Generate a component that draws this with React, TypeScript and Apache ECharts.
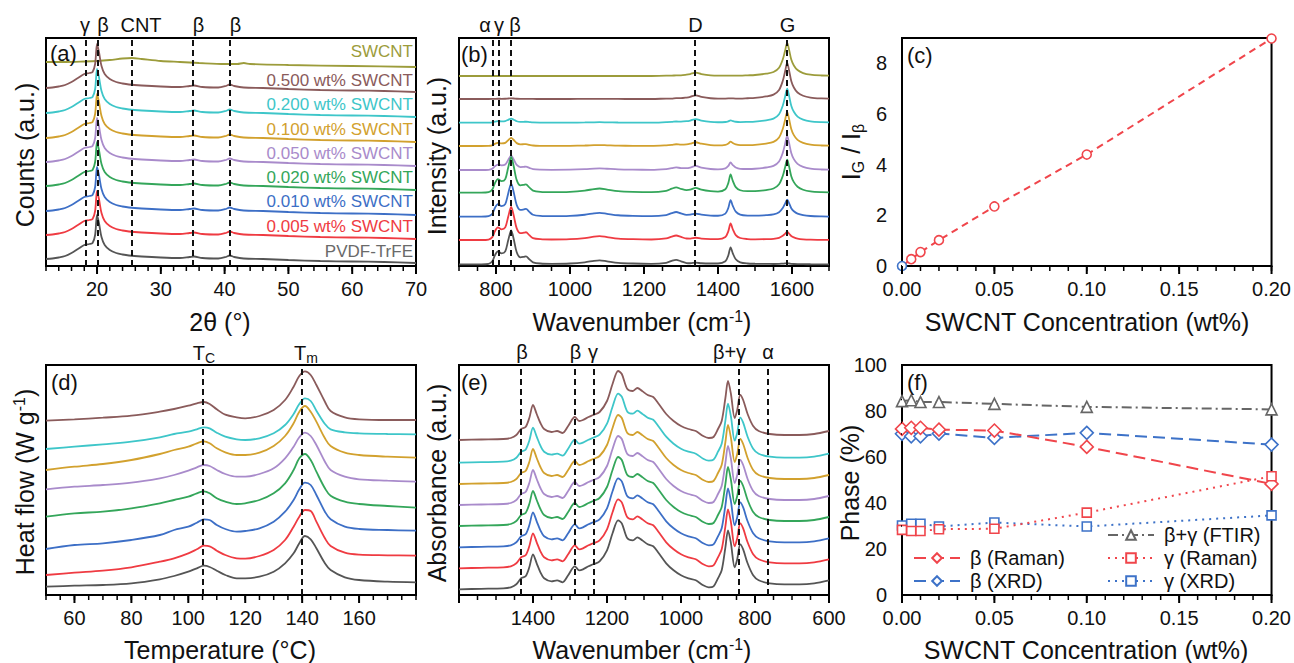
import React, { useEffect, useRef } from 'react';
import * as echarts from 'echarts';

const FONT = '"Liberation Sans", Arial, Helvetica, sans-serif';

// ---------- samples ----------
const SAMPLES = ['PVDF-TrFE', '0.005 wt% SWCNT', '0.010 wt% SWCNT', '0.020 wt% SWCNT', '0.050 wt% SWCNT', '0.100 wt% SWCNT', '0.200 wt% SWCNT', '0.500 wt% SWCNT', 'SWCNT'];
const COLORS = ['#555555', '#ef3b42', '#3d6fc6', '#34a65a', '#a98bcb', '#d2a12e', '#3ec6c9', '#8a5b5b', '#9c9c3b'];
const LABEL_COLORS = ['#6a6a6a', '#ef3b42', '#3d6fc6', '#34a65a', '#a98bcb', '#d2a12e', '#3ec6c9', '#8a5b5b', '#9c9c3b'];

// ---------- (a) XRD ----------
const XRD_2THETA = [12, 13, 14, 15, 16, 17, 18, 18.8, 19.3, 19.7, 20.0, 20.3, 20.7, 21.2, 22, 23, 24, 25, 27, 30, 33, 34.5, 35.2, 36.5, 39, 40.2, 40.8, 41.5, 43, 46, 50, 55, 60, 65, 70];
const XRD_POLYMER = [0, 0.5, 1.5, 3, 6, 10, 14, 15, 16, 24, 44, 36, 22, 14, 9, 6, 4.5, 3.5, 2.5, 1.5, 1, 2, 2.5, 1, 0.5, 2, 3.5, 2, 0.5, 0, -1, -2, -2.5, -3, -4];
const XRD_OFFSET = [7, 31, 55, 80, 104, 128, 153, 178];
const XRD_CNT_2THETA = [12, 15, 18, 20, 22, 24, 25.5, 27, 30, 33, 36, 40, 42, 43, 44, 50, 60, 70];
const XRD_CNT = [204, 204, 204.5, 205, 206, 207.5, 208, 207, 205, 204, 203, 202, 202, 203, 202, 201, 200, 199];
const XRD_MARKS = [18.3, 20.1, 25.5, 35, 40.8];

// ---------- (b) Raman ----------
const RAMAN_W = [700, 760, 780, 790, 797, 805, 815, 825, 833, 841, 848, 856, 866, 875, 881, 890, 900, 920, 950, 1000, 1040, 1065, 1080, 1100, 1130, 1170, 1220, 1260, 1275, 1287, 1300, 1315, 1325, 1340, 1355, 1380, 1400, 1420, 1428, 1434, 1440, 1448, 1460, 1480, 1500, 1530, 1550, 1565, 1575, 1581, 1587, 1592, 1598, 1605, 1615, 1630, 1650, 1680, 1700];
const RAMAN_POLYMER = [0, 0, 0.5, 3, 9, 13, 11, 13, 24, 34, 25, 12, 7, 7.5, 8, 5, 2, 0.8, 0.5, 0.8, 2, 3.5, 4, 3, 1.5, 0.8, 0.5, 1.5, 3.5, 4.5, 3, 1.2, 1, 1.5, 1, 0.8, 0.8, 3, 9, 17, 11, 5, 2, 0.8, 0.5, 0.3, 0.2, 0.2, 0.2, 0.1, 0, 0, 0, 0, 0, 0, 0, 0, 0];
const RAMAN_CNT = [0, 0, 0, 0, 0, 0, 0, 0, 0, 0, 0, 0, 0, 0, 0, 0, 0, 0, 0, 0, 0, 0, 0, 0, 0, 0, 0, 0.01, 0.01, 0.02, 0.02, 0.04, 0.06, 0.1, 0.06, 0.02, 0.01, 0.01, 0.01, 0.01, 0.01, 0.01, 0.01, 0.02, 0.03, 0.07, 0.12, 0.25, 0.5, 0.75, 1, 0.8, 0.5, 0.32, 0.18, 0.09, 0.04, 0.015, 0.01];
const RAMAN_OFFSET = [1.7, 26, 49.3, 73.3, 96, 120, 143.3, 167, 190];
const RAMAN_POLY_WEIGHT = [1, 0.97, 0.97, 1.05, 0.42, 0.24, 0.12, 0.02, 0];
const RAMAN_G_HEIGHT = [1, 8, 17, 33, 34, 34, 34, 36, 33];
const RAMAN_MARKS = [790, 807, 841, 1338, 1586];

// ---------- (c) IG/Ibeta ----------
const CONC = [0, 0.005, 0.01, 0.02, 0.05, 0.1, 0.2];
const IG_IB = [0, 0.27, 0.55, 1.02, 2.35, 4.4, 8.98];

// ---------- (d) DSC ----------
const DSC_T = [50, 60, 70, 80, 90, 95, 100, 103, 105.5, 107.5, 110, 113, 117, 120, 125, 130, 134, 137, 139, 141, 143, 145, 148, 150, 155, 160, 170, 180];
const DSC_PVDF = [8.3, 9.3, 10, 11.7, 15.7, 19, 23.3, 26.7, 29.3, 28, 24.3, 20, 16.7, 16.7, 18.3, 23.3, 31.7, 41.7, 51.7, 59, 55.7, 46.7, 31.7, 25, 17.7, 15, 13.3, 12.7];
const DSC_005 = [20, 22.3, 24.3, 27.7, 33.3, 36.7, 41.7, 45.7, 49.3, 48.7, 44.3, 40, 36.7, 36.3, 39, 45, 55, 68.3, 78.3, 85, 84, 73.3, 56.7, 49, 42.3, 40.3, 39.7, 39.3];
const DSC_010 = [46, 50, 51.7, 55, 60, 65, 68.3, 72.3, 75.7, 75, 70, 66, 63.3, 64, 66.7, 73.3, 83.3, 95, 105.7, 112.3, 110, 100, 83.3, 75.7, 68.3, 66, 65, 64.3];
const DSC_020 = [78.3, 81.7, 83.3, 86.7, 91.7, 95, 98.3, 101.7, 103.7, 101.7, 96.7, 93.3, 91, 91.7, 95, 101.7, 111.7, 125, 136.7, 141, 135, 123.3, 106.7, 99.3, 93.3, 91, 89, 87.3];
const DSC_050 = [105.7, 108.3, 110, 112.3, 116.7, 120, 124.3, 127.7, 130, 129, 125, 121, 118.3, 118.3, 121, 126.7, 136.7, 148.3, 157.7, 162.3, 159, 150, 133.3, 125, 118.3, 115.7, 114.3, 113.3];
const DSC_100 = [125, 128.3, 131, 135, 141, 145, 148.3, 151.7, 153.7, 151.7, 146.7, 142.7, 140, 140, 142.3, 149, 159, 171.7, 183.3, 189, 183.3, 173.3, 156.7, 149, 142.3, 140, 138.3, 137.3];
const DSC_200 = [146, 148.3, 150.7, 153.3, 157.7, 161, 163.3, 165.7, 167.7, 166.7, 162.3, 158.3, 155.7, 155, 156.7, 161.7, 170, 181, 191, 196.7, 194, 184.3, 171, 165.7, 162.7, 161.7, 161, 160.7];
const DSC_500 = [174.3, 175.7, 177.3, 179.3, 183.3, 186, 189.3, 191.7, 193, 191, 185.7, 180.3, 177.7, 176.7, 179, 185, 195, 208.3, 219, 223.7, 220, 210, 193.3, 184, 177.7, 175.7, 175, 175];
const DSC_CURVES = [DSC_PVDF, DSC_005, DSC_010, DSC_020, DSC_050, DSC_100, DSC_200, DSC_500];
const DSC_MARKS = [105, 140];

// ---------- (e) FTIR ----------
const FTIR_W = [1600, 1540, 1480, 1460, 1445, 1432, 1420, 1410, 1400, 1390, 1380, 1370, 1350, 1335, 1320, 1305, 1287, 1275, 1265, 1250, 1237, 1220, 1200, 1185, 1170, 1160, 1145, 1130, 1118, 1105, 1090, 1075, 1060, 1040, 1020, 1000, 980, 960, 940, 925, 912, 900, 890, 880, 873, 865, 855, 848, 840, 832, 820, 805, 790, 760, 720, 680, 640, 600];
const FTIR_ABS = [0, 0.5, 1, 2, 5, 11, 13, 22, 35, 26, 17, 11, 8, 9, 7, 14, 23, 19, 20, 23, 25, 28, 39, 56, 69, 66, 51, 49, 52, 49, 45, 43, 36, 26, 19, 14, 11, 9, 4, 2, 3, 11, 19, 42, 59, 46, 22, 30, 45, 40, 26, 14, 9, 6, 5, 5, 6, 9];
const FTIR_OFFSET = [5.7, 26.7, 47.7, 69, 90, 111, 132.3, 155];
const FTIR_MARKS = [1432, 1287, 1237, 844, 766];

// ---------- (f) phase fractions ----------
const PHASE_FTIR_BG = [84.3, 84.7, 83.9, 83.9, 83.1, 81.8, 80.7];
const PHASE_RAMAN_B = [72.2, 72.7, 72.7, 71.9, 71.5, 64.4, 48.3];
const PHASE_XRD_B = [70.1, 69, 69, 70.2, 68.3, 70.5, 65.4];
const PHASE_RAMAN_G = [28.3, 27.8, 27.8, 28.6, 28.8, 35.8, 51.6];
const PHASE_XRD_G = [30.2, 31, 31, 29.8, 31.5, 29.8, 34.6];

// ---------- axis tick positions ----------
const steps = (a: number, b: number, s: number) => {
  const out: number[] = [];
  const n = Math.round((b - a) / s);
  for (let i = 0; i <= n; i++) out.push(+(a + i * s).toFixed(6));
  return out;
};
const TICKS_A_MAJOR = [20, 30, 40, 50, 60, 70];
const TICKS_A_MINOR = steps(12, 70, 2);
const TICKS_B_MAJOR = [800, 1000, 1200, 1400, 1600];
const TICKS_B_MINOR = steps(700, 1700, 50);
const TICKS_CONC_MAJOR = [0, 0.05, 0.1, 0.15, 0.2];
const TICKS_CONC_MINOR = steps(0, 0.2, 0.01);
const TICKS_C_Y_MAJOR = [0, 2, 4, 6, 8];
const TICKS_C_Y_MINOR = steps(0, 9, 0.5);
const TICKS_D_MAJOR = [60, 80, 100, 120, 140, 160];
const TICKS_D_MINOR = steps(50, 180, 5);
const TICKS_E_MAJOR = [600, 800, 1000, 1200, 1400, 1600];
const TICKS_E_MINOR = steps(600, 1600, 50);
const TICKS_F_Y_MAJOR = [0, 20, 40, 60, 80, 100];
const TICKS_F_Y_MINOR = steps(0, 100, 5);

const RED = '#f0454b';
const BLUE = '#3d72c8';
const GRAY = '#666666';

function buildOption() {
  const PANELS = [
    { left: 46, top: 38, width: 370, height: 228 },
    { left: 459, top: 38, width: 370, height: 228 },
    { left: 902, top: 38, width: 371, height: 228 },
    { left: 46, top: 365, width: 370, height: 230 },
    { left: 459, top: 365, width: 370, height: 230 },
    { left: 902, top: 365, width: 371, height: 230 },
  ];
  const X_RANGE = [[12, 70], [700, 1700], [0, 0.2], [50, 180], [600, 1600], [0, 0.2]];
  const Y_RANGE = [[0, 228], [0, 228], [0, 9], [0, 230], [0, 230], [0, 100]];
  const grids: any[] = PANELS.map((g) => ({ ...g, show: true, borderColor: '#000', borderWidth: 2 }));

  const numFmt = (v: number) => String(v);
  const mainX = (grid: number, o: any) => {
    const label: any = { show: true, fontSize: 20, color: '#111', fontFamily: FONT, margin: 13, formatter: o.fmt || numFmt };
    if (o.custom) label.customValues = o.custom;
    const ax: any = {
      type: 'value', gridIndex: grid, min: X_RANGE[grid][0], max: X_RANGE[grid][1], position: 'bottom', inverse: !!o.inverse,
      axisLine: { show: true, lineStyle: { color: '#000', width: 2 } },
      axisTick: { show: false }, minorTick: { show: false },
      axisLabel: label, splitLine: { show: false },
    };
    if (o.interval) ax.interval = o.interval;
    return ax;
  };
  const hiddenY = (grid: number) => ({ type: 'value', gridIndex: grid, min: Y_RANGE[grid][0], max: Y_RANGE[grid][1], show: false, splitLine: { show: false } });
  const mainY = (grid: number, interval: number, fmt: any) => ({
    type: 'value', gridIndex: grid, min: Y_RANGE[grid][0], max: Y_RANGE[grid][1], interval, position: 'left',
    axisLine: { show: true, lineStyle: { color: '#000', width: 2 } },
    axisTick: { show: false }, minorTick: { show: false },
    axisLabel: { show: true, fontSize: 20, color: '#111', fontFamily: FONT, margin: 15, formatter: fmt },
    splitLine: { show: false },
  });

  const xAxis: any[] = [
    mainX(0, { custom: TICKS_A_MAJOR }),
    mainX(1, { custom: TICKS_B_MAJOR }),
    mainX(2, { interval: 0.05, fmt: (v: number) => v.toFixed(2) }),
    mainX(3, { custom: TICKS_D_MAJOR }),
    mainX(4, { interval: 200, inverse: true, fmt: (v: number) => (v >= 1600 ? '' : String(v)) }),
    mainX(5, { interval: 0.05, fmt: (v: number) => v.toFixed(2) }),
  ];
  const yAxis: any[] = [
    hiddenY(0), hiddenY(1),
    mainY(2, 2, (v: number) => (Math.abs(v % 2) < 1e-9 ? String(v) : '')),
    hiddenY(3), hiddenY(4),
    mainY(5, 20, (v: number) => String(v)),
  ];

  const series: any[] = [];

  // Outward ticks as broken line series in each panel's own data space (pixel length -> data units).
  const xTickSeries = (p: number, ticks: number[], len: number, w: number) => {
    const [y0, y1] = Y_RANGE[p];
    const dy = (len * (y1 - y0)) / PANELS[p].height;
    const data: any[] = [];
    ticks.forEach((v) => { data.push([v, y0], [v, y0 - dy], [v, '-']); });
    return { type: 'line', xAxisIndex: p, yAxisIndex: p, data, symbol: 'none', showSymbol: false, clip: false, connectNulls: false,
      lineStyle: { color: '#000', width: w }, itemStyle: { color: '#000' }, z: 4 };
  };
  const yTickSeries = (p: number, ticks: number[], len: number, w: number) => {
    const [x0, x1] = X_RANGE[p];
    const dx = (len * (x1 - x0)) / PANELS[p].width;
    const data: any[] = [];
    ticks.forEach((v) => { data.push([x0, v], [x0 - dx, v], ['-', v]); });
    return { type: 'line', xAxisIndex: p, yAxisIndex: p, data, symbol: 'none', showSymbol: false, clip: false, connectNulls: false,
      lineStyle: { color: '#000', width: w }, itemStyle: { color: '#000' }, z: 4 };
  };
  series.push(xTickSeries(0, TICKS_A_MAJOR, 8, 2), xTickSeries(0, TICKS_A_MINOR, 5, 1.5));
  series.push(xTickSeries(1, TICKS_B_MAJOR, 8, 2), xTickSeries(1, TICKS_B_MINOR, 5, 1.5));
  series.push(xTickSeries(2, TICKS_CONC_MAJOR, 8, 2), xTickSeries(2, TICKS_CONC_MINOR, 5, 1.5));
  series.push(yTickSeries(2, TICKS_C_Y_MAJOR, 8, 2), yTickSeries(2, TICKS_C_Y_MINOR, 5, 1.5));
  series.push(xTickSeries(3, TICKS_D_MAJOR, 8, 2), xTickSeries(3, TICKS_D_MINOR, 5, 1.5));
  series.push(xTickSeries(4, TICKS_E_MAJOR, 8, 2), xTickSeries(4, TICKS_E_MINOR, 5, 1.5));
  series.push(xTickSeries(5, TICKS_CONC_MAJOR, 8, 2), xTickSeries(5, TICKS_CONC_MINOR, 5, 1.5));
  series.push(yTickSeries(5, TICKS_F_Y_MAJOR, 8, 2), yTickSeries(5, TICKS_F_Y_MINOR, 5, 1.5));

  const curve = (name: string, xi: number, yi: number, data: number[][], color: string, smooth: any = 0.3) => ({
    name, type: 'line', xAxisIndex: xi, yAxisIndex: yi, data, symbol: 'none', showSymbol: false, smooth,
    lineStyle: { color, width: 1.8 }, itemStyle: { color }, z: 2,
  });
  const vlines = (xi: number, yi: number, x0: number, values: number[]) => ({
    type: 'line', xAxisIndex: xi, yAxisIndex: yi, data: [[x0, 0]], symbol: 'none', showSymbol: false,
    lineStyle: { width: 0 }, z: 5,
    markLine: {
      silent: true, symbol: ['none', 'none'], label: { show: false }, animation: false,
      lineStyle: { color: '#111', width: 2, type: [6, 4] },
      data: values.map((v) => ({ xAxis: v })),
    },
  });

  series.push(curve('XRD ' + SAMPLES[8], 0, 0, XRD_CNT_2THETA.map((x, k) => [x, XRD_CNT[k]]), COLORS[8], 0.3));
  for (let i = 7; i >= 0; i--) {
    series.push(curve('XRD ' + SAMPLES[i], 0, 0, XRD_2THETA.map((x, k) => [x, XRD_OFFSET[i] + XRD_POLYMER[k]]), COLORS[i], 0.3));
  }
  series.push(vlines(0, 0, 12, XRD_MARKS));

  for (let i = 8; i >= 0; i--) {
    series.push(curve('Raman ' + SAMPLES[i], 1, 1,
      RAMAN_W.map((w, k) => [w, RAMAN_OFFSET[i] + RAMAN_POLY_WEIGHT[i] * RAMAN_POLYMER[k] + RAMAN_G_HEIGHT[i] * RAMAN_CNT[k]]), COLORS[i], 0.3));
  }
  series.push(vlines(1, 1, 700, RAMAN_MARKS));

  series.push({
    name: 'IG/Ib', type: 'line', xAxisIndex: 2, yAxisIndex: 2, clip: false,
    data: CONC.map((x, i) => (i === 0 ? { value: [x, IG_IB[i]], itemStyle: { borderColor: BLUE } } : [x, IG_IB[i]])),
    symbol: 'circle', symbolSize: 9, showSymbol: true,
    lineStyle: { color: RED, width: 2, type: [7, 5] },
    itemStyle: { color: '#fff', borderColor: RED, borderWidth: 1.6 }, z: 3,
  });

  for (let i = 7; i >= 0; i--) {
    series.push(curve('DSC ' + SAMPLES[i], 3, 3, DSC_T.map((t, k) => [t, DSC_CURVES[i][k]]), COLORS[i], 0.35));
  }
  series.push(vlines(3, 3, 50, DSC_MARKS));

  for (let i = 7; i >= 0; i--) {
    series.push(curve('FTIR ' + SAMPLES[i], 4, 4, FTIR_W.map((w, k) => [w, FTIR_OFFSET[i] + FTIR_ABS[k]]), COLORS[i], 0.3));
  }
  series.push(vlines(4, 4, 600, FTIR_MARKS));

  const phase = (name: string, vals: number[], color: string, dash: any, symbol: string, size: number) => ({
    name, type: 'line', xAxisIndex: 5, yAxisIndex: 5, clip: false,
    data: CONC.map((x, i) => [x, vals[i]]), symbol, symbolSize: size, showSymbol: true,
    lineStyle: { color, width: 2, type: dash },
    itemStyle: { color: '#fff', borderColor: color, borderWidth: 1.6 }, z: 3,
  });
  series.push(phase('β+γ (FTIR)', PHASE_FTIR_BG, GRAY, [10, 4, 2, 4], 'triangle', 11));
  series.push(phase('β (XRD)', PHASE_XRD_B, BLUE, [12, 6], 'diamond', 13));
  series.push(phase('β (Raman)', PHASE_RAMAN_B, RED, [12, 6], 'diamond', 13));
  series.push(phase('γ (XRD)', PHASE_XRD_G, BLUE, [2, 5], 'rect', 9));
  series.push(phase('γ (Raman)', PHASE_RAMAN_G, RED, [2, 5], 'rect', 9));

  const legendBase = {
    selectedMode: false, padding: 0, itemWidth: 46, itemHeight: 12, itemGap: 3,
    textStyle: { fontSize: 20, color: '#111', fontFamily: FONT, padding: [0, 0, 0, 5] },
  };
  const legend = [
    { ...legendBase, left: 1107, top: 525, data: ['β+γ (FTIR)'] },
    { ...legendBase, orient: 'vertical', left: 913, top: 548, data: ['β (Raman)', 'β (XRD)'] },
    { ...legendBase, orient: 'vertical', left: 1107, top: 548, data: ['γ (Raman)', 'γ (XRD)'] },
  ];

  const sup = { fontSize: 16, fontFamily: FONT, fill: '#111', verticalAlign: 'top', lineHeight: 28 };
  const sub = { fontSize: 14, fontFamily: FONT, fill: '#111', verticalAlign: 'bottom', lineHeight: 24 };
  const txt = (x: number, y: number, text: string, size: number, o: any = {}) => {
    const style: any = {
      text, fontSize: size, fontFamily: FONT, fill: o.fill || '#111',
      align: o.align || 'center', verticalAlign: 'middle', textAlign: o.align || 'center', textVerticalAlign: 'middle',
    };
    if (o.rich) style.rich = o.rich;
    if (o.lineHeight) style.lineHeight = o.lineHeight;
    const el: any = { type: 'text', x, y, silent: true, z: 100, style };
    if (o.rot) el.rotation = o.rot;
    return el;
  };
  const R90 = Math.PI / 2;
  const graphic: any[] = [
    txt(85, 25, 'γ', 20), txt(103, 25, 'β', 20), txt(141, 25, 'CNT', 20), txt(198.5, 25, 'β', 20), txt(235.5, 25, 'β', 20),
    txt(485, 25, 'α', 20), txt(499, 25, 'γ', 20), txt(515, 25, 'β', 20), txt(695.5, 25, 'D', 20), txt(787.5, 25, 'G', 20),
    txt(204, 353, 'T{s|C}', 20, { rich: { s: sub }, lineHeight: 24 }), txt(306, 353, 'T{s|m}', 20, { rich: { s: sub }, lineHeight: 24 }),
    txt(522, 352, 'β', 20), txt(575.5, 352, 'β', 20), txt(593, 352, 'γ', 20), txt(729.5, 352, 'β+γ', 20), txt(768, 352, 'α', 20),
    txt(50, 53, '(a)', 22, { align: 'left' }), txt(461, 54, '(b)', 22, { align: 'left' }), txt(907, 55, '(c)', 22, { align: 'left' }),
    txt(51, 382, '(d)', 22, { align: 'left' }), txt(461, 382, '(e)', 22, { align: 'left' }), txt(907, 382, '(f)', 22, { align: 'left' }),
    txt(220, 322, '2θ (°)', 25),
    txt(642, 322, 'Wavenumber (cm{s|-1})', 25, { rich: { s: sup }, lineHeight: 28 }),
    txt(1087, 322, 'SWCNT Concentration (wt%)', 25),
    txt(220, 650, 'Temperature (°C)', 25),
    txt(642, 650, 'Wavenumber (cm{s|-1})', 25, { rich: { s: sup }, lineHeight: 28 }),
    txt(1086, 650, 'SWCNT Concentration (wt%)', 25),
    txt(25, 155, 'Counts (a.u.)', 25, { rot: R90 }),
    txt(437, 156, 'Intensity (a.u.)', 25, { rot: R90 }),
    txt(851, 152, 'I{s|G} / I{s|β}', 25, { rot: R90, rich: { s: { ...sub, fontSize: 16, lineHeight: 30 } }, lineHeight: 30 }),
    txt(25, 482, 'Heat flow (W g{s|-1})', 25, { rot: R90, rich: { s: sup }, lineHeight: 28 }),
    txt(437, 483, 'Absorbance (a.u.)', 25, { rot: R90 }),
    txt(850, 483, 'Phase (%)', 25, { rot: R90 }),
  ];
  const labelY = [251.7, 226.7, 201.7, 177.3, 153.3, 129, 104.3, 80, 51.7];
  SAMPLES.forEach((s, i) => graphic.push(txt(413, labelY[i], s, 17, { align: 'right', fill: LABEL_COLORS[i] })));

  return {
    animation: false,
    backgroundColor: '#fff',
    grid: grids,
    xAxis,
    yAxis,
    legend,
    series,
    graphic,
  };
}

export default function App() {
  const ref = useRef<HTMLDivElement>(null);
  useEffect(() => {
    const chart = echarts.init(ref.current as HTMLDivElement, null, { renderer: 'svg' });
    chart.setOption(buildOption() as any);
    return () => chart.dispose();
  }, []);
  return <div ref={ref} style={{ position: 'fixed', left: 0, top: 0, width: 1294, height: 663, background: '#fff' }} />;
}
